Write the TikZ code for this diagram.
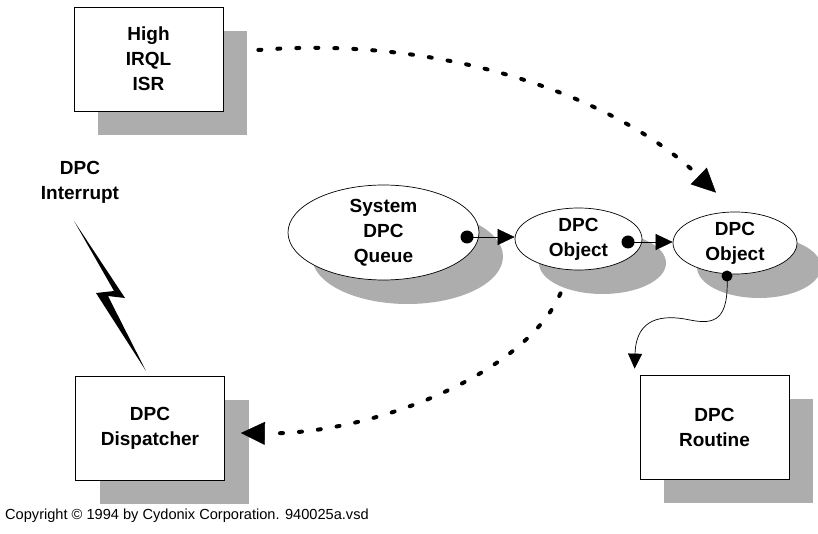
\documentclass[tikz,border=0pt]{standalone}
\usepackage{fontspec}
\setmainfont{Liberation Sans}
\usetikzlibrary{shapes.geometric,shadows,arrows.meta}
\definecolor{shadowgray}{gray}{0.68}
\begin{document}
\begin{tikzpicture}[x=1pt,y=-1pt,
   boxshadow/.style={drop shadow={shadow xshift=24pt,shadow yshift=-24pt,opacity=1,fill=shadowgray}},
   label/.style={align=center,inner sep=0pt,font=\bfseries\fontsize{19}{25}\selectfont},
   procbox/.style={label,draw,line width=0.7pt,fill=white,boxshadow,minimum width=149pt,minimum height=104pt},
   objell/.style={label,ellipse,draw,line width=0.7pt,fill=white,boxshadow},
   dotline/.style={line width=4pt,line cap=round,dash pattern=on 3pt off 16pt,
     -{Triangle[length=24pt,width=23pt,line width=0.5pt]}},
   ptr/.style={line width=0.7pt,-{Triangle[length=17pt,width=16pt,line width=0.5pt]}}]
   \useasboundingbox (0,0) rectangle (818,534);
   \node[procbox] (isr) at (148.5,59) {High\\IRQL\\ISR};
   \node[procbox] (disp) at (150,428) {DPC\\Dispatcher};
   \node[procbox] (rout) at (714.5,427) {DPC\\Routine};
   \node[objell,minimum width=191pt,minimum height=95pt] (queue) at (383.5,232.5) {System\\DPC\\Queue};
   \node[objell,minimum width=127pt,minimum height=62pt] (obja) at (578.5,239) {DPC\\Object};
   \node[objell,minimum width=124pt,minimum height=62pt] (objb) at (735,243) {DPC\\Object};
   \node[label] (irq) at (80,182) {DPC\\Interrupt};
   \node[anchor=west,inner sep=0pt,font=\fontsize{14.6}{16}\selectfont] (copy) at (5,516)
     {Copyright \textcopyright{} 1994 by Cydonix Corporation. 940025a.vsd};
   \fill (74,221) -- (125,298) -- (108,296) -- (146,371) -- (96,293) -- (114,291) -- cycle;
   \coordinate (qdot) at (467,237);
   \coordinate (adot) at (628,242);
   \coordinate (bdot) at (727,276);
   \draw[ptr] (qdot) -- (obja.west |- qdot);
   \draw[ptr] (adot) -- (objb.west |- adot);
   \fill (qdot) circle(6.5) (adot) circle(6.5) (bdot) circle(5.5);
   \draw[line width=0.7pt,-{Triangle[length=15pt,width=14pt,line width=0.5pt]}] (bdot)
     .. controls (729,320) and (715,325) .. (690,320)
     .. controls (662,314) and (636,318) .. ([shift={(-5,-6)}]rout.north west);
   \draw[dotline] ([shift={(35,-9)}]isr.east) .. controls (450,35) and (620,100) ..
     ([shift={(-19,-19)}]objb.north);
   \draw[dotline] ([shift={(-18,23)}]obja.south) .. controls (525,375) and (370,435) ..
     ([shift={(16,5)}]disp.east);
\end{tikzpicture}
\end{document}
